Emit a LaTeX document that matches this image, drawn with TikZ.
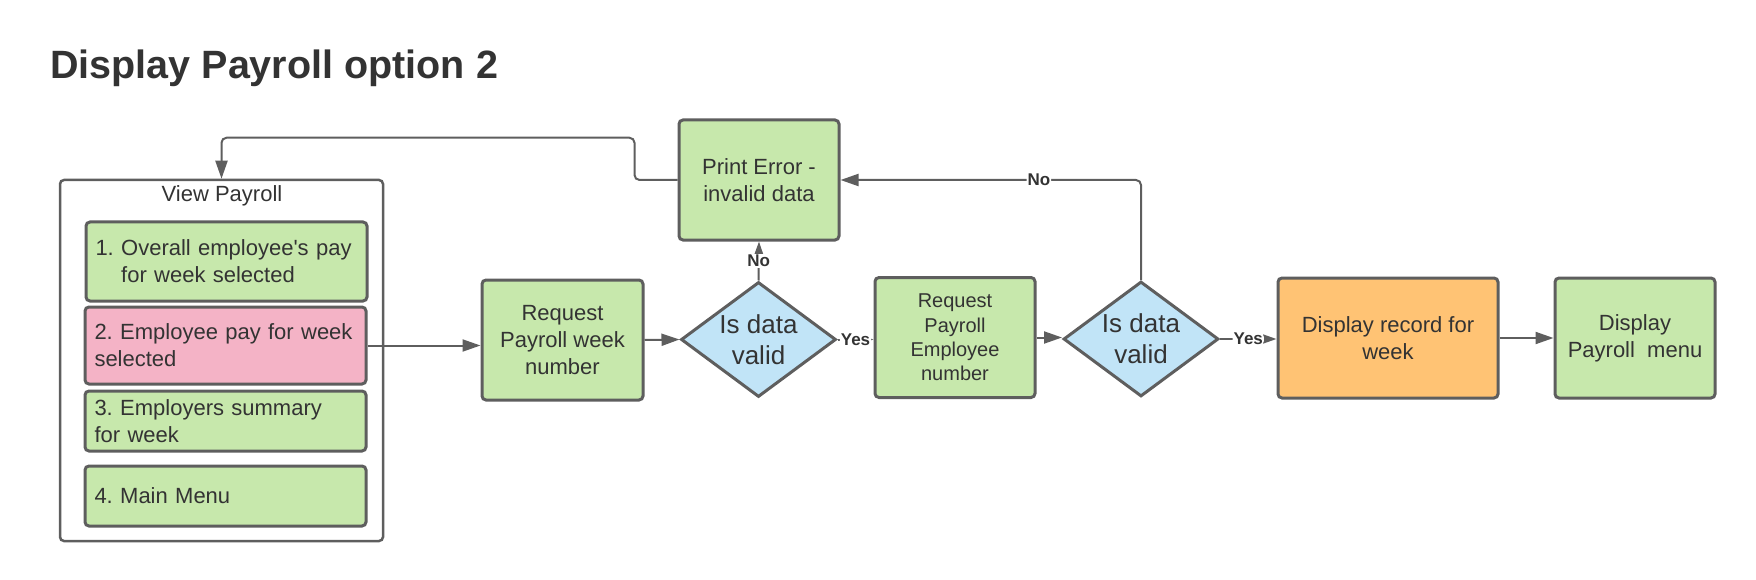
\documentclass[tikz,border=0pt]{standalone}
\usepackage{fontspec}
\setmainfont{Liberation Sans}
\usetikzlibrary{shapes.geometric,arrows.meta}
\definecolor{linegray}{HTML}{5E5E5E}
\definecolor{textgray}{HTML}{333333}
\definecolor{boxgreen}{HTML}{C7E8AC}
\definecolor{boxpink}{HTML}{F4B3C6}
\definecolor{boxblue}{HTML}{C1E4F7}
\definecolor{boxorange}{HTML}{FFC374}
\frenchspacing

\begin{document}
\begin{tikzpicture}[x=1pt, y=-1pt,
        every node/.style={text=textgray},
        box/.style={draw=linegray, line width=3pt, rounded corners=4pt, fill=boxgreen,
            align=center, inner sep=0pt, minimum width=160pt, minimum height=120pt,
            font=\fontsize{22}{27}\selectfont},
        item/.style={box, align=left, text width=262pt, minimum width=281pt},
        check/.style={diamond, draw=linegray, line width=3pt, fill=boxblue, aspect=1.35,
            inner sep=0pt, minimum width=155pt, minimum height=115pt, align=center,
            font=\fontsize{26}{31}\selectfont},
        conn/.style={draw=linegray, line width=2pt, rounded corners=5pt,
            -{Triangle[length=18pt, width=12pt]}},
        lbl/.style={fill=white, inner sep=1pt, font=\fontsize{17}{20}\selectfont\bfseries}
    ]
        \useasboundingbox (0,0) rectangle (1756,580);
        \node[anchor=base west, font=\fontsize{39.5}{47}\selectfont\bfseries] (title) at (46.7,79) {Display Payroll option 2};

        \node[draw=linegray, line width=2.5pt, rounded corners=4pt, minimum width=323pt, minimum height=361pt] (view) at (221.5,360.5) {};
        \node[font=\fontsize{22}{27}\selectfont] (viewtitle) at (222,196) {View Payroll};
        \node[item, minimum height=79pt] (opt1) at (226.5,261.5) {1. Overall employee\textquotesingle s pay\\\phantom{1.\ }for week selected};
        \node[item, fill=boxpink, minimum height=77pt] (opt2) at (225.5,345.5) {2. Employee pay for week\\selected};
        \node[item, minimum height=60pt] (opt3) at (225.5,421) {3. Employers summary\\for week};
        \node[item, minimum height=60pt] (opt4) at (225.5,496) {4. Main Menu};

        \node[box, minimum width=161pt] (reqweek) at (562.5,340) {Request\\Payroll week\\number};
        \node[check] (check1) at (758.5,339.5) {Is data\\valid};
        \node[box] (error) at (759,180) {Print Error -\\invalid data};
        \node[box, font=\fontsize{20}{24.3}\selectfont] (reqemp) at (955,337.5) {Request\\Payroll\\Employee\\number};
        \node[check] (check2) at (1141,339) {Is data\\valid};
        \node[box, fill=boxorange, minimum width=220pt] (record) at (1388,338) {Display record for\\week};
        \node[box] (menu) at (1635,338) {Display\\Payroll~ menu};

        \draw[conn] (opt2.east) -- (opt2.east -| reqweek.west);
        \draw[conn] (reqweek.east) -- (check1.west);
        \draw[conn] (check1.north) -- node[lbl] {No} (error.south);
        \draw[conn] (check1.east) -- node[lbl] {Yes} (check1.east -| reqemp.west);
        \draw[conn] (reqemp.east) -- (reqemp.east -| check2.west);
        \draw[conn] (check2.north) |- node[lbl, pos=0.67] {No} (error.east);
        \draw[conn] (check2.east) -- node[lbl] {Yes} (check2.east -| record.west);
        \draw[conn] (record.east) -- (menu.west);
        \draw[conn] (error.west) -- ++(-43,0) |- ([yshift=41pt]view.north) -- (view.north);
    \end{tikzpicture}
\end{document}
